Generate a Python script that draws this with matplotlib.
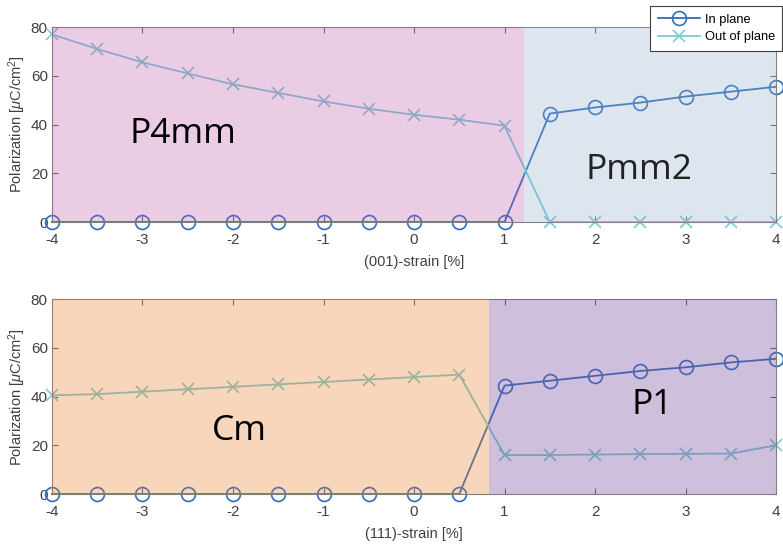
import matplotlib
matplotlib.use("Agg")
import matplotlib.pyplot as plt
import numpy as np

plt.rcParams['axes.unicode_minus'] = False
plt.rcParams['font.family'] = ['Liberation Sans', 'DejaVu Sans']
plt.rcParams['mathtext.fontset'] = 'custom'
plt.rcParams['mathtext.rm'] = 'Liberation Sans'
plt.rcParams['mathtext.it'] = 'Liberation Sans:italic'

# strain values (%)
strain = [-4, -3.5, -3, -2.5, -2, -1.5, -1, -0.5, 0, 0.5, 1, 1.5, 2, 2.5, 3, 3.5, 4]

# (001) strain
inplane_001 = [0, 0, 0, 0, 0, 0, 0, 0, 0, 0, 0, 44.5, 47, 49, 51.5, 53.5, 55.5]
outplane_001 = [77, 71, 65.5, 61, 56.5, 53, 49.5, 46.5, 44, 42, 39.5, 0, 0, 0, 0, 0, 0]
bound_001 = 1.22

# (111) strain
inplane_111 = [0, 0, 0, 0, 0, 0, 0, 0, 0, 0, 44.5, 46.5, 48.5, 50.5, 52, 54, 55.5]
outplane_111 = [40.5, 41, 42, 43, 44, 45, 46, 47, 48, 49, 16, 16, 16.2, 16.4, 16.5, 16.6, 20]
bound_111 = 0.83

c_in = '#2F6EBA'
c_out = '#7CCBD3'
tick_col = '#404040'


def setup(ax, xlabel):
    ax.set_xlim(-4, 4)
    ax.set_ylim(0, 80)
    ax.set_xticks(np.arange(-4, 5, 1))
    ax.set_yticks([0, 20, 40, 60, 80])
    ax.tick_params(direction='in', top=True, right=True, length=4,
                   labelsize=11, colors='#606060', labelcolor=tick_col)
    ax.tick_params(axis='x', pad=8)
    ax.tick_params(axis='y', pad=3)
    for s in ax.spines.values():
        s.set_color('#808080')
        s.set_linewidth(0.8)
    ax.set_xlabel(xlabel, fontsize=10.5, color=tick_col, labelpad=6)
    ax.set_ylabel(r'Polarization [$\mu$C/cm$^2$]', fontsize=10.5, color=tick_col, labelpad=2)


fig = plt.figure(figsize=(7.83, 5.46), dpi=100)
ax1 = fig.add_axes([0.0664, 0.5934, 0.9247, 0.357])
ax2 = fig.add_axes([0.0664, 0.0952, 0.9247, 0.357])

for ax, inp, outp in [(ax1, inplane_001, outplane_001), (ax2, inplane_111, outplane_111)]:
    ax.plot(strain, inp, '-o', color=c_in, mfc='none', ms=10, lw=1.3, mew=1.2,
            label='In plane', clip_on=False, zorder=2)
    ax.plot(strain, outp, '-x', color=c_out, ms=9, lw=1.3, mew=1.2,
            label='Out of plane', clip_on=False, zorder=2)

# phase regions drawn translucent over the curves
ax1.axvspan(-4, bound_001, color=(192/255, 88/255, 172/255), alpha=0.3, lw=0, zorder=3)
ax1.axvspan(bound_001, 4, color=(145/255, 172/255, 205/255), alpha=0.3, lw=0, zorder=3)
ax2.axvspan(-4, bound_111, color=(232/255, 122/255, 32/255), alpha=0.3, lw=0, zorder=3)
ax2.axvspan(bound_111, 4, color=(120/255, 80/255, 160/255), alpha=0.36, lw=0, zorder=3)

lab = dict(fontsize=25.5, family='Open Sans', ha='center', va='center', zorder=4)
ax1.text(-2.55, 36, 'P4mm', **lab)
ax1.text(2.49, 21.3, 'Pmm2', color='#222222', **lab)
ax2.text(-1.93, 25.8, 'Cm', **lab)
ax2.text(2.63, 36.5, 'P1', **lab)

setup(ax1, '(001)-strain [%]')
setup(ax2, '(111)-strain [%]')

leg = fig.legend(*ax1.get_legend_handles_labels(), loc='upper right',
                 bbox_to_anchor=(1.007, 1.0), fontsize=9.3, fancybox=False,
                 framealpha=1, edgecolor='#404040', borderpad=0.55,
                 handlelength=3.25, handletextpad=0.4, labelspacing=0.45)
leg.get_frame().set_linewidth(0.8)

plt.savefig('out.png', dpi=100)
